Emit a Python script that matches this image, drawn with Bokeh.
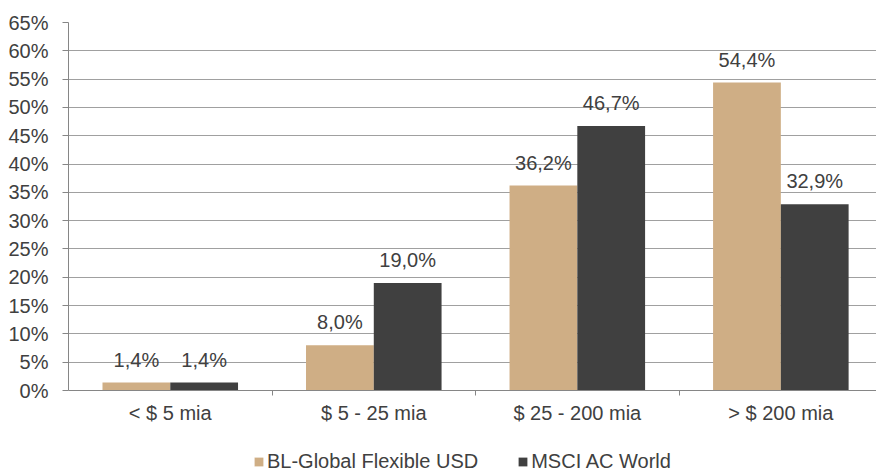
from bokeh.plotting import figure
from bokeh.layouts import column
from bokeh.models import (ColumnDataSource, Range1d, FixedTicker, PrintfTickFormatter,
                          Legend, LegendItem, LabelSet)
from bokeh.core.properties import value
from bokeh.embed import file_html
from bokeh.resources import INLINE

categories = ["< $ 5 mia", "$ 5 - 25 mia", "$ 25 - 200 mia", "> $ 200 mia"]
fund_values = [1.4, 8.0, 36.2, 54.4]
index_values = [1.4, 19.0, 46.7, 32.9]
series_names = ["BL-Global Flexible USD", "MSCI AC World"]
series_colors = ["#CFAE85", "#404040"]
y_ticks = list(range(0, 66, 5))

FONT = "Liberation Sans"
TXT = "#404040"
FS = "20px"
BAR_W = 0.333

centers = [i + 0.5 for i in range(len(categories))]

def fmt(v):
    return f"{v:.1f}".replace(".", ",") + "%"

src_a = ColumnDataSource(dict(x=[c - BAR_W / 2 for c in centers], top=fund_values,
                              lab=[fmt(v) for v in fund_values]))
src_b = ColumnDataSource(dict(x=[c + BAR_W / 2 for c in centers], top=index_values,
                              lab=[fmt(v) for v in index_values]))

p = figure(width=876, height=441, output_backend="svg", toolbar_location=None,
           x_range=Range1d(0, 3.97), y_range=Range1d(0, 65),
           min_border_left=68, min_border_right=0, min_border_top=22, min_border_bottom=51)
p.outline_line_color = None
p.background_fill_color = "white"
p.border_fill_color = "white"

p.vbar(x="x", top="top", width=BAR_W, source=src_a, color=series_colors[0], line_color=None)
p.vbar(x="x", top="top", width=BAR_W, source=src_b, color=series_colors[1], line_color=None)

for s in (src_a, src_b):
    p.add_layout(LabelSet(x="x", y="top", text="lab", source=s, text_align="center",
                          text_baseline="alphabetic", y_offset=16,
                          text_font=value(FONT), text_font_size=FS, text_color=TXT))

p.xgrid.visible = False
p.ygrid.ticker = FixedTicker(ticks=y_ticks)
p.ygrid.grid_line_color = "#a0a0a0"
p.ygrid.grid_line_width = 1

xa = p.xaxis[0]
xa.ticker = FixedTicker(ticks=centers, minor_ticks=[1, 2, 3])
xa.major_label_overrides = {c: n for c, n in zip(centers, categories)}
xa.major_tick_line_color = None
xa.major_tick_out = 5
xa.major_tick_in = 0
xa.minor_tick_out = 5
xa.minor_tick_in = 0
xa.minor_tick_line_color = "#868686"
xa.axis_line_color = "#868686"
xa.major_label_text_font = FONT
xa.major_label_text_font_size = FS
xa.major_label_text_color = TXT
xa.major_label_standoff = 6

ya = p.yaxis[0]
ya.ticker = FixedTicker(ticks=y_ticks)
ya.formatter = PrintfTickFormatter(format="%d%%")
ya.major_tick_out = 6
ya.major_tick_in = 0
ya.minor_tick_line_color = None
ya.major_tick_line_color = "#868686"
ya.axis_line_color = "#868686"
ya.major_label_text_font = FONT
ya.major_label_text_font_size = FS
ya.major_label_text_color = TXT
ya.major_label_standoff = 14

# legend strip below the chart (its frame is aligned with the chart frame)
p2 = figure(width=876, height=30, output_backend="svg", toolbar_location=None,
            x_axis_location=None, y_axis_location=None,
            x_range=Range1d(0, 1), y_range=Range1d(0, 1), min_border=0)
p2.outline_line_color = None
p2.background_fill_color = None
p2.border_fill_color = None
p2.xgrid.visible = False
p2.ygrid.visible = False
# legend-only renderers: zero-height bars, nothing visible is drawn
dummies = [p2.vbar(x=[0.5], top=[0], bottom=[0], width=0.1, color=c, line_color=None)
           for c in series_colors]

legend = Legend(items=[LegendItem(label=n, renderers=[r]) for n, r in zip(series_names, dummies)],
                orientation="horizontal", location=(185, -2),
                glyph_width=11, glyph_height=11, label_standoff=3, spacing=39,
                label_height=20, padding=0, margin=0, border_line_color=None,
                background_fill_alpha=0,
                label_text_font=FONT, label_text_font_size=FS, label_text_color=TXT)
p2.add_layout(legend, "center")

layout = column(p, p2, spacing=0)
open("out.html", "w").write(file_html(layout, INLINE))
